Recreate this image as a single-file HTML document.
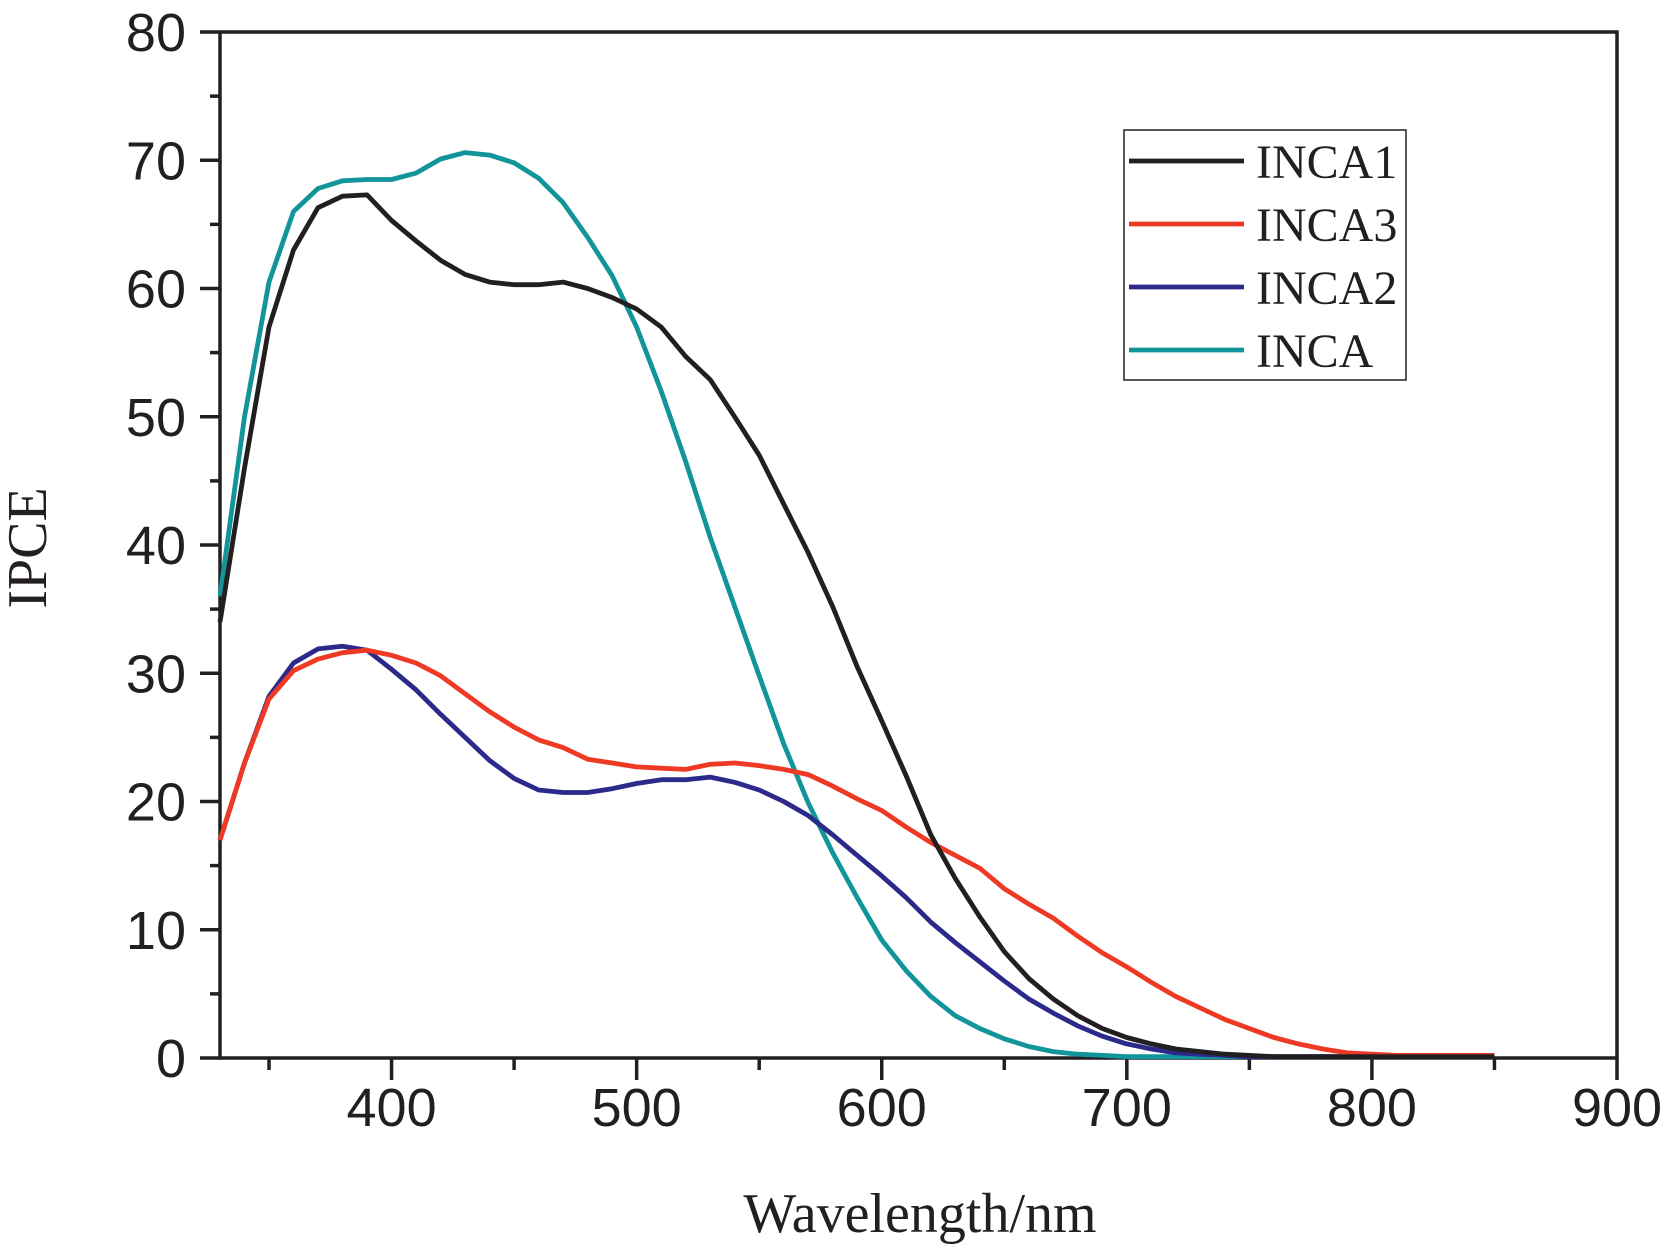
<!DOCTYPE html>
<html><head><meta charset="utf-8"><style>
html,body{margin:0;padding:0;background:#fff;}
svg text{fill:#231f20;}
.tk{font-family:"Liberation Sans",sans-serif;font-size:54px;}
.ti{font-family:"Liberation Serif",serif;font-size:56px;}
.lg{font-family:"Liberation Serif",serif;font-size:48px;}
</style></head><body>
<svg id="chart" width="1667" height="1248" viewBox="0 0 1667 1248" xmlns="http://www.w3.org/2000/svg">
<g id="axes"></g><g id="series"></g><g id="legend"></g>
<text class="ti" x="920" y="1232" text-anchor="middle">Wavelength/nm</text>
<text class="ti" transform="translate(46,548) rotate(-90)" text-anchor="middle">IPCE</text>
</svg>
<script>
const wavelengths=[330,340,350,360,370,380,390,400,410,420,430,440,450,460,470,480,490,500,510,520,530,540,550,560,570,580,590,600,610,620,630,640,650,660,670,680,690,700,710,720,730,740,750,760,770,780,790,800,810,820,830,840,850];
const inca1=[34,46,57,63,66.3,67.2,67.3,65.3,63.7,62.2,61.1,60.5,60.3,60.3,60.5,60,59.3,58.4,57,54.7,52.9,50,47,43.2,39.4,35.2,30.5,26.3,22,17.4,14,11,8.3,6.2,4.6,3.3,2.3,1.6,1.1,0.7,0.5,0.3,0.2,0.1,0.1,0.1,0.1,0.1,0.1,0.1,0.1,0.1,0.1];
const inca3=[17,23,28,30.2,31.1,31.6,31.8,31.4,30.8,29.8,28.4,27,25.8,24.8,24.2,23.3,23,22.7,22.6,22.5,22.9,23,22.8,22.5,22.1,21.2,20.2,19.3,18,16.8,15.8,14.8,13.2,12,10.9,9.5,8.2,7.1,5.9,4.8,3.9,3,2.3,1.6,1.1,0.7,0.4,0.3,0.2,0.2,0.2,0.2,0.2];
const inca2=[17,23,28.2,30.8,31.9,32.1,31.8,30.3,28.7,26.8,25,23.2,21.8,20.9,20.7,20.7,21,21.4,21.7,21.7,21.9,21.5,20.9,20,18.9,17.4,15.8,14.2,12.5,10.6,9,7.5,6,4.6,3.5,2.5,1.7,1.1,0.7,0.4,0.3,0.2,0.1,0.1,0.1,0.1,0.1,0.1,0.1,0.1,0.1,0.1,0.1];
const inca=[36,50,60.5,66,67.8,68.4,68.5,68.5,69,70.1,70.6,70.4,69.8,68.6,66.7,64,61,57,52,46.5,40.6,35.2,29.8,24.5,19.9,16,12.5,9.2,6.8,4.8,3.3,2.3,1.5,0.9,0.5,0.3,0.2,0.1,0.1,0.1,0.1,0.1,0.1,0.1,0.1,0.1,0.1,0.1,0.1,0.1,0.1,0.1,0.1];
const seriesNames=["INCA1","INCA3","INCA2","INCA"];
const seriesColors=["#231f20","#ee3a24","#2b2a8a","#11959a"];
const seriesData=[inca1,inca3,inca2,inca];
const xTicks=[400,500,600,700,800,900];
const yTicks=[0,10,20,30,40,50,60,70,80];

const NS="http://www.w3.org/2000/svg";
const X0=220,X1=1617,Y0=1058,Y1=32,xmin=330,xmax=900;
const sx=v=>X0+(v-xmin)*(X1-X0)/(xmax-xmin);
const sy=v=>Y0-v*(Y0-Y1)/80;
function mk(tag,attrs,parent){const e=document.createElementNS(NS,tag);for(const k in attrs)e.setAttribute(k,attrs[k]);parent.appendChild(e);return e;}
const axes=document.getElementById('axes');
const frame=mk('rect',{x:X0,y:Y1,width:X1-X0,height:Y0-Y1,fill:'none',stroke:'#231f20','stroke-width':3.5},axes);


for(let v=350;v<=900;v+=50){
  const major=v%100===0;
  const t=mk('line',{x1:sx(v),x2:sx(v),y1:Y0,y2:Y0+(major?22:12),stroke:'#231f20','stroke-width':3.5},axes);
  
  
}
xTicks.forEach(v=>{
  const t=mk('text',{x:sx(v),y:Y0+68,'text-anchor':'middle',class:'tk'},axes);t.textContent=v;
  
  
});
for(let v=0;v<=80;v+=5){
  const major=v%10===0;
  const t=mk('line',{x1:X0-(major?20:10),x2:X0,y1:sy(v),y2:sy(v),stroke:'#231f20','stroke-width':3.5},axes);
  
  
}
yTicks.forEach(v=>{
  const t=mk('text',{x:X0-34,y:sy(v)+19,'text-anchor':'end',class:'tk'},axes);t.textContent=v;
  
  
});
const sg=document.getElementById('series');
[3,2,1,0].forEach(i=>{
  const pts=wavelengths.map((w,j)=>sx(w).toFixed(1)+','+sy(seriesData[i][j]).toFixed(1)).join(' ');
  const p=mk('polyline',{points:pts,fill:'none',stroke:seriesColors[i],'stroke-width':4.8,'stroke-linejoin':'round'},sg);
  
  
});
const lg=document.getElementById('legend');
const box=mk('rect',{x:1124,y:130,width:282,height:250,fill:'#fff',stroke:'#231f20','stroke-width':1.5},lg);


seriesNames.forEach((n,i)=>{
  const y=161+i*63;
  const l=mk('line',{x1:1129,x2:1244,y1:y,y2:y,stroke:seriesColors[i],'stroke-width':4.8},lg);
  
  
  const t=mk('text',{x:1256,y:y+17,class:'lg'},lg);t.textContent=n;
  
  
});
</script>
</body></html>
